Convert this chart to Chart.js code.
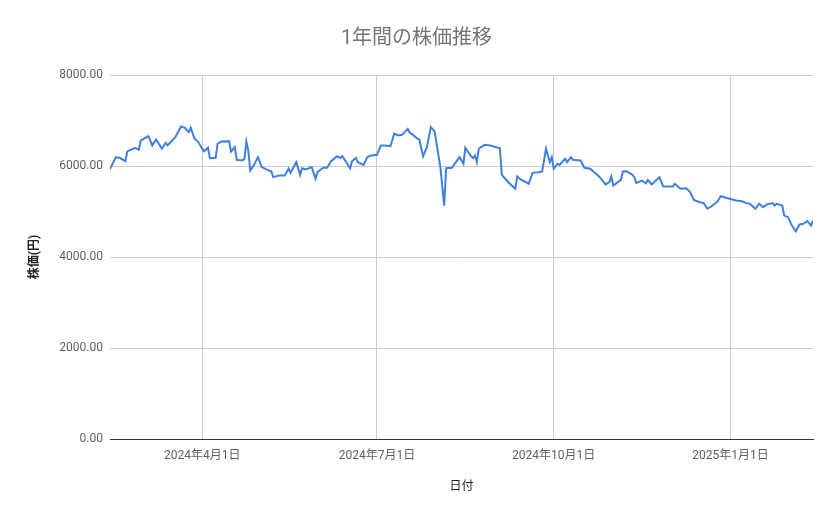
<!DOCTYPE html>
<html lang="ja">
<head>
<meta charset="utf-8">
<title>1年間の株価推移</title>
<script src="https://cdn.jsdelivr.net/npm/chart.js@4/dist/chart.umd.min.js"></script>
<style>
  html, body { margin: 0; padding: 0; background: #fff; }
  #wrap { width: 839px; height: 519px; }
</style>
</head>
<body>
<div id="wrap"><canvas id="price-chart" width="839" height="519"></canvas></div>
<script>
/* ---- data ---- */
const dates = [
    '2024-02-13', '2024-02-16', '2024-02-18', '2024-02-21', '2024-02-22', '2024-02-26', '2024-02-28', '2024-02-29',
    '2024-03-04', '2024-03-05', '2024-03-06', '2024-03-08', '2024-03-11', '2024-03-13', '2024-03-14', '2024-03-18',
    '2024-03-21', '2024-03-23', '2024-03-25', '2024-03-26', '2024-03-28', '2024-03-30', '2024-04-01', '2024-04-02',
    '2024-04-04', '2024-04-05', '2024-04-08', '2024-04-09', '2024-04-11', '2024-04-15', '2024-04-16', '2024-04-18',
    '2024-04-19', '2024-04-22', '2024-04-23', '2024-04-24', '2024-04-25', '2024-04-26', '2024-04-28', '2024-04-30',
    '2024-05-02', '2024-05-05', '2024-05-07', '2024-05-08', '2024-05-11', '2024-05-14', '2024-05-16', '2024-05-17',
    '2024-05-20', '2024-05-22', '2024-05-23', '2024-05-25', '2024-05-28', '2024-05-30', '2024-05-31', '2024-06-03',
    '2024-06-05', '2024-06-07', '2024-06-10', '2024-06-12', '2024-06-13', '2024-06-17', '2024-06-18', '2024-06-20',
    '2024-06-21', '2024-06-24', '2024-06-26', '2024-06-28', '2024-07-01', '2024-07-03', '2024-07-05', '2024-07-08',
    '2024-07-10', '2024-07-12', '2024-07-14', '2024-07-17', '2024-07-18', '2024-07-19', '2024-07-22', '2024-07-23',
    '2024-07-25', '2024-07-27', '2024-07-29', '2024-07-31', '2024-08-03', '2024-08-05', '2024-08-06', '2024-08-09',
    '2024-08-13', '2024-08-15', '2024-08-16', '2024-08-19', '2024-08-20', '2024-08-21', '2024-08-22', '2024-08-23',
    '2024-08-26', '2024-08-29', '2024-09-03', '2024-09-04', '2024-09-07', '2024-09-11', '2024-09-12', '2024-09-14',
    '2024-09-18', '2024-09-20', '2024-09-23', '2024-09-25', '2024-09-27', '2024-09-29', '2024-09-30', '2024-10-01',
    '2024-10-03', '2024-10-04', '2024-10-07', '2024-10-08', '2024-10-10', '2024-10-11', '2024-10-15', '2024-10-17',
    '2024-10-20', '2024-10-24', '2024-10-25', '2024-10-28', '2024-10-30', '2024-10-31', '2024-11-01', '2024-11-05',
    '2024-11-06', '2024-11-08', '2024-11-11', '2024-11-12', '2024-11-13', '2024-11-16', '2024-11-18', '2024-11-19',
    '2024-11-21', '2024-11-25', '2024-11-27', '2024-12-02', '2024-12-03', '2024-12-06', '2024-12-09', '2024-12-11',
    '2024-12-13', '2024-12-16', '2024-12-18', '2024-12-20', '2024-12-22', '2024-12-25', '2024-12-27', '2025-01-01',
    '2025-01-04', '2025-01-07', '2025-01-09', '2025-01-11', '2025-01-14', '2025-01-16', '2025-01-18', '2025-01-20',
    '2025-01-23', '2025-01-24', '2025-01-25', '2025-01-28', '2025-01-29', '2025-01-31', '2025-02-02', '2025-02-04',
    '2025-02-06', '2025-02-08', '2025-02-10', '2025-02-12', '2025-02-13',
];

const prices = [
    5930, 6190, 6180, 6105, 6320, 6400, 6355, 6560,
    6655, 6560, 6450, 6585, 6380, 6510, 6450, 6635,
    6870, 6840, 6745, 6840, 6600, 6525, 6380, 6325,
    6400, 6170, 6180, 6485, 6540, 6545, 6320, 6415,
    6135, 6120, 6160, 6540, 6340, 5900, 6025, 6195,
    5975, 5915, 5880, 5755, 5790, 5790, 5940, 5850,
    6085, 5805, 5950, 5925, 5975, 5720, 5865, 5960,
    5960, 6100, 6210, 6180, 6215, 5950, 6105, 6180,
    6085, 6025, 6195, 6230, 6245, 6450, 6450, 6435,
    6710, 6670, 6685, 6815, 6730, 6710, 6600, 6585,
    6215, 6415, 6855, 6760, 5975, 5130, 5950, 5960,
    6195, 6050, 6400, 6215, 6170, 6230, 6085, 6380,
    6465, 6450, 6390, 5805, 5660, 5500, 5770, 5700,
    5610, 5850, 5865, 5880, 6380, 6085, 6195, 5940,
    6050, 6025, 6160, 6085, 6195, 6135, 6120, 5960,
    5940, 5790, 5755, 5595, 5645, 5770, 5570, 5695,
    5880, 5885, 5805, 5755, 5630, 5680, 5620, 5695,
    5595, 5755, 5550, 5550, 5610, 5500, 5510, 5425,
    5255, 5205, 5190, 5060, 5110, 5205, 5335, 5275,
    5240, 5225, 5190, 5170, 5060, 5170, 5095, 5155,
    5185, 5130, 5170, 5130, 4910, 4875, 4690, 4565,
    4715, 4730, 4790, 4690, 4800,
];

const xRange = ['2024-02-13', '2025-02-13'];
const xTickDates = ['2024-04-01', '2024-07-01', '2024-10-01', '2025-01-01'];
const yTicks = [0, 2000, 4000, 6000, 8000];

/* ---- helpers ---- */
const FONT = 'Roboto, "Noto Sans CJK JP", sans-serif';

function dayNum(s) {
    const [y, m, d] = s.split('-').map(Number);
    return Date.UTC(y, m - 1, d) / 86400000;
}

function fmtDate(n) {
    const dt = new Date(n * 86400000);
    return dt.getUTCFullYear() + '年' + (dt.getUTCMonth() + 1) + '月' + dt.getUTCDate() + '日';
}

const points = dates.map((d, i) => ({ x: dayNum(d), y: prices[i] }));

new Chart(document.getElementById('price-chart'), {
    type: 'line',
    data: {
        datasets: [{
            label: '株価',
            data: points,
            borderColor: '#3f80de',
            borderWidth: 2,
            pointRadius: 0,
            tension: 0,
            fill: false,
        }],
    },
    options: {
        responsive: false,
        animation: false,
        layout: { padding: { left: 20, right: 26, top: 0, bottom: 19 } },
        plugins: {
            legend: { display: false },
            tooltip: { enabled: false },
            title: {
                display: true,
                text: '1年間の株価推移',
                color: '#757575',
                font: { family: FONT, size: 20, weight: 'normal' },
                padding: { top: 27, bottom: 24 },
            },
        },
        scales: {
            x: {
                type: 'linear',
                min: dayNum(xRange[0]),
                max: dayNum(xRange[1]),
                afterBuildTicks: s => { s.ticks = xTickDates.map(d => ({ value: dayNum(d) })); },
                afterFit: s => { s.height = 61; },
                grid: { color: '#cccccc', drawTicks: false },
                border: { display: true, color: '#333333', width: 1 },
                ticks: {
                    color: '#5f5f5f',
                    font: { family: FONT, size: 12 },
                    padding: 10,
                    maxRotation: 0,
                    autoSkip: false,
                    callback: v => fmtDate(v),
                },
                title: {
                    display: true,
                    text: '日付',
                    color: '#222222',
                    font: { family: FONT, size: 12 },
                    padding: { top: 0, bottom: 6 },
                },
            },
            y: {
                min: 0,
                max: 8000,
                afterBuildTicks: s => { s.ticks = yTicks.map(v => ({ value: v })); },
                afterFit: s => { s.width = 90; },
                grid: {
                    color: c => (c.tick && c.tick.value === 0 ? '#333333' : '#cccccc'),
                    drawTicks: false,
                },
                border: { display: false },
                ticks: {
                    color: '#5f5f5f',
                    font: { family: FONT, size: 12 },
                    padding: 7,
                    callback: v => v.toFixed(2),
                },
                title: {
                    display: true,
                    text: '株価(円)',
                    color: '#222222',
                    font: { family: FONT, size: 12, weight: 'bold' },
                    padding: { top: 8, bottom: 0 },
                },
            },
        },
    },
});
</script>
</body>
</html>
